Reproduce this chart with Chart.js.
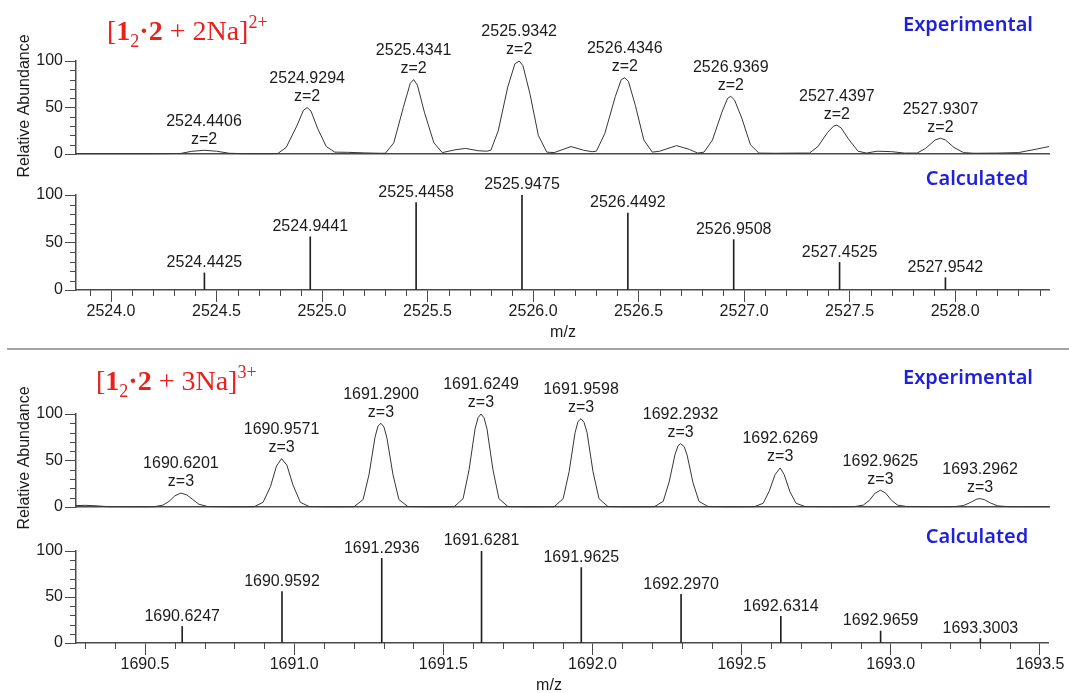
<!DOCTYPE html>
<html>
<head>
<meta charset="utf-8">
<title>Isotope patterns</title>
<script src="https://cdn.jsdelivr.net/npm/chart.js@4.4.1/dist/chart.umd.min.js"></script>
<style>
  body { margin: 0; width: 1069px; height: 693px; overflow: hidden; background: #fff; position: relative; }
  canvas { position: absolute; left: 0; }
  .rule { position: absolute; left: 7px; right: 0; top: 348px; height: 2px; background: #a5a5a5; }
</style>
</head>
<body>
<canvas id="exp2" width="1069" height="200" style="top:0"></canvas>
<canvas id="calc2" width="1069" height="189" style="top:160px"></canvas>
<div class="rule"></div>
<canvas id="exp3" width="1069" height="200" style="top:349px"></canvas>
<canvas id="calc3" width="1069" height="182" style="top:514px"></canvas>
<script>
// ---- [1_2·2 + 2Na]2+ ----
const charge2 = 2;
const sodium2 = 2;
const mzRange2 = [2523.834, 2528.445];
const expMz2 = [2524.4406, 2524.9294, 2525.4341, 2525.9342, 2526.4346, 2526.9369, 2527.4397, 2527.9307];
const expInt2 = [4, 50, 80, 100, 82, 62, 31, 17];
// profile points between the apexes
const expTrace2 = [
  [2523.834, 0.3], [2524.20, 0.3], [2524.30, 0.5],
  [2524.33, 0.6], [2524.38, 2.8], [2524.50, 3], [2524.56, 0.8], [2524.62, 0.4], [2524.75, 0.3],
  [2524.79, 0.5], [2524.83, 7], [2524.88, 30], [2524.912, 47], [2524.948, 46], [2524.98, 27], [2525.02, 8], [2525.06, 2],
  [2525.12, 1.8], [2525.20, 1.2], [2525.27, 0.8],
  [2525.30, 0.8], [2525.34, 12], [2525.385, 50], [2525.418, 76], [2525.452, 74], [2525.485, 45], [2525.53, 12], [2525.57, 1.5],
  [2525.63, 4.5], [2525.68, 6], [2525.74, 3.5], [2525.78, 3],
  [2525.80, 4], [2525.835, 25], [2525.88, 72], [2525.914, 97], [2525.952, 95], [2525.985, 65], [2526.025, 20], [2526.065, 2],
  [2526.10, 1.5], [2526.18, 8], [2526.24, 4], [2526.28, 2.5],
  [2526.30, 3], [2526.34, 22], [2526.39, 62], [2526.418, 80], [2526.452, 78], [2526.485, 52], [2526.525, 15], [2526.565, 2],
  [2526.60, 3], [2526.68, 9], [2526.74, 5], [2526.78, 1],
  [2526.81, 2], [2526.85, 15], [2526.895, 45], [2526.922, 60], [2526.955, 58], [2526.99, 38], [2527.03, 10], [2527.07, 1],
  [2527.15, 0.8], [2527.25, 1],
  [2527.31, 1], [2527.35, 8], [2527.395, 23], [2527.424, 30], [2527.46, 28], [2527.495, 16], [2527.54, 3], [2527.58, 1],
  [2527.63, 3], [2527.70, 2.5], [2527.76, 1],
  [2527.82, 1], [2527.86, 6], [2527.905, 15], [2527.955, 15], [2527.995, 7], [2528.04, 1.5], [2528.09, 0.8],
  [2528.20, 1], [2528.30, 1.5], [2528.38, 5], [2528.445, 8]
];
const calcMz2 = [2524.4425, 2524.9441, 2525.4458, 2525.9475, 2526.4492, 2526.9508, 2527.4525, 2527.9542];
const calcInt2 = [18, 56, 92, 100, 81, 53, 29, 13];

// ---- [1_2·2 + 3Na]3+ ----
const charge3 = 3;
const sodium3 = 3;
const mzRange3 = [1690.2687, 1693.527];
const expMz3 = [1690.6201, 1690.9571, 1691.2900, 1691.6249, 1691.9598, 1692.2932, 1692.6269, 1692.9625, 1693.2962];
const expInt3 = [15, 52, 90, 100, 95, 68, 42, 18, 9];
const expTrace3 = [
  [1690.2687, 1.5], [1690.30, 1.8], [1690.34, 1.2], [1690.38, 0.3], [1690.50, 0.2],
  [1690.53, 0.3], [1690.56, 2], [1690.58, 6], [1690.60, 12], [1690.64, 13], [1690.66, 8], [1690.68, 3], [1690.71, 0.5], [1690.80, 0.2],
  [1690.865, 0.3], [1690.895, 5], [1690.92, 22], [1690.94, 44], [1690.975, 45], [1690.995, 24], [1691.02, 5], [1691.05, 0.5], [1691.13, 0.2],
  [1691.20, 0.3], [1691.23, 8], [1691.25, 35], [1691.27, 75], [1691.28, 87], [1691.30, 86], [1691.31, 74], [1691.33, 35], [1691.35, 8], [1691.38, 0.5], [1691.46, 0.2],
  [1691.535, 0.3], [1691.565, 9], [1691.585, 40], [1691.605, 84], [1691.615, 96], [1691.635, 96], [1691.645, 84], [1691.665, 40], [1691.685, 9], [1691.715, 0.5], [1691.79, 0.2],
  [1691.87, 0.3], [1691.90, 9], [1691.92, 38], [1691.94, 80], [1691.95, 92], [1691.97, 91], [1691.98, 80], [1692.00, 38], [1692.02, 9], [1692.05, 0.5], [1692.12, 0.2],
  [1692.205, 0.3], [1692.235, 6], [1692.255, 27], [1692.275, 57], [1692.285, 66], [1692.305, 65], [1692.315, 56], [1692.335, 26], [1692.355, 6], [1692.385, 0.5], [1692.46, 0.2],
  [1692.54, 0.3], [1692.57, 4], [1692.59, 17], [1692.61, 35], [1692.64, 35], [1692.66, 16], [1692.68, 4], [1692.71, 0.5], [1692.80, 0.3],
  [1692.875, 0.4], [1692.905, 2], [1692.925, 7], [1692.945, 15], [1692.98, 15], [1693.00, 7], [1693.02, 2], [1693.05, 0.5], [1693.15, 0.3],
  [1693.21, 0.4], [1693.24, 1.5], [1693.265, 5], [1693.285, 8.5], [1693.31, 8], [1693.33, 4.5], [1693.355, 1.2], [1693.39, 0.4],
  [1693.45, 0.3], [1693.527, 0.3]
];
const calcMz3 = [1690.6247, 1690.9592, 1691.2936, 1691.6281, 1691.9625, 1692.2970, 1692.6314, 1692.9659, 1693.3003];
const calcInt3 = [18, 56, 92, 100, 82, 53, 29, 13, 5];

const yLabels = [0, 50, 100];

const FONT = '"Liberation Sans", Arial, sans-serif';
const AXIS = '#4a4a4a';
const INK = '#1c1c1c';
const BLUE = '#1f1fdc';
const RED = '#e8201e';

Chart.defaults.font.family = FONT;
Chart.defaults.font.size = 16;
Chart.defaults.color = INK;
Chart.defaults.animation = false;

const isHalf = v => Math.abs(v * 2 - Math.round(v * 2)) < 1e-6;

function profile(mz, inten, trace) {
  const apex = mz.map((x, i) => ({ x, y: inten[i] }));
  return apex.concat(trace.map(([x, y]) => ({ x, y }))).sort((a, b) => a.x - b.x);
}

function yScale() {
  return {
    min: 0, max: 100,
    afterFit: s => { s.width = 76; },
    ticks: { stepSize: 10, autoSkip: false, padding: 2, callback: v => yLabels.includes(v) ? String(v) : '' },
    grid: { drawOnChartArea: false, tickLength: 11, tickWidth: 1,
      tickColor: c => yLabels.includes(c.tick.value) ? AXIS : 'rgba(0,0,0,0)' },
    border: { color: AXIS, width: 1.5 }
  };
}

function xScale(range, labelled) {
  if (!labelled) {
    return {
      type: 'linear', min: range[0], max: range[1], offset: false,
      afterFit: s => { s.height = 0; },
      ticks: { display: false }, grid: { display: false },
      border: { color: AXIS, width: 1.5 }
    };
  }
  return {
    type: 'linear', min: range[0], max: range[1], offset: false,
    afterFit: s => { s.height = 52; },
    ticks: { stepSize: 0.1, includeBounds: false, autoSkip: false, maxRotation: 0, maxTicksLimit: 200, padding: 0,
      callback: v => isHalf(v) ? v.toFixed(1) : '' },
    grid: { drawOnChartArea: false, offset: false, tickLength: 12, tickWidth: 1,
      tickColor: c => isHalf(c.tick.value) ? AXIS : 'rgba(0,0,0,0)' }
    ,
    border: { color: AXIS, width: 1.5 }
  };
}

// short ticks: every 10 on y, every 0.1 on x
const minorTicks = {
  id: 'minorTicks',
  afterDraw(chart) {
    const { ctx, chartArea, scales: { x, y } } = chart;
    ctx.save();
    ctx.strokeStyle = AXIS;
    ctx.lineWidth = 1;
    ctx.beginPath();
    y.ticks.forEach(t => {
      if (yLabels.includes(t.value)) return;
      const py = Math.round(y.getPixelForValue(t.value)) + 0.5;
      ctx.moveTo(chartArea.left - 6, py);
      ctx.lineTo(chartArea.left, py);
    });
    if (x.options.ticks.display !== false) {
      x.ticks.forEach(t => {
        if (isHalf(t.value)) return;
        const px = Math.round(x.getPixelForValue(t.value)) + 0.5;
        ctx.moveTo(px, chartArea.bottom);
        ctx.lineTo(px, chartArea.bottom + 6);
      });
    }
    ctx.stroke();
    ctx.restore();
  }
};

// m/z (and charge) written above each peak
const peakLabels = {
  id: 'peakLabels',
  afterDatasetsDraw(chart, args, opts) {
    const { ctx, scales: { x, y } } = chart;
    ctx.save();
    ctx.font = '16px ' + FONT;
    ctx.fillStyle = INK;
    ctx.textAlign = 'center';
    ctx.textBaseline = 'middle';
    opts.mz.forEach((m, i) => {
      const px = x.getPixelForValue(m);
      const py = y.getPixelForValue(opts.inten[i]);
      if (opts.charge) {
        ctx.fillText(m.toFixed(4), px, py - 29);
        ctx.fillText('z=' + opts.charge, px, py - 11);
      } else {
        ctx.fillText(m.toFixed(4), px, py - 10);
      }
    });
    ctx.restore();
  }
};

function drawFormula(ctx, x, y, na, charge) {
  const parts = [
    ['[', '', 28, 0], ['1', 'bold ', 28, 0], ['2', '', 18, 7], ['·', 'bold ', 28, 0], ['2', 'bold ', 28, 0],
    [' + ' + na + 'Na]', '', 28, 0], [charge + '+', '', 18, -12]
  ];
  ctx.fillStyle = RED;
  ctx.textBaseline = 'alphabetic';
  ctx.textAlign = 'left';
  parts.forEach(([txt, weight, size, dy]) => {
    ctx.font = weight + size + 'px "Liberation Serif", "Times New Roman", serif';
    ctx.fillText(txt, x, y + dy);
    x += ctx.measureText(txt).width;
  });
}

// panel captions, formula and axis titles
const notes = {
  id: 'notes',
  afterDraw(chart, args, opts) {
    const { ctx } = chart;
    ctx.save();
    if (opts.tag) {
      ctx.font = '600 20px "Noto Sans", sans-serif';
      ctx.fillStyle = BLUE;
      ctx.textAlign = 'center';
      ctx.textBaseline = 'middle';
      ctx.fillText(opts.tag.text, opts.tag.x, opts.tag.y);
    }
    if (opts.formula) {
      const f = opts.formula;
      drawFormula(ctx, f.x, f.y, f.na, f.charge);
    }
    ctx.font = '16px ' + FONT;
    ctx.fillStyle = INK;
    ctx.textAlign = 'center';
    ctx.textBaseline = 'middle';
    if (opts.xTitle) {
      ctx.fillText('m/z', opts.xTitle.x, opts.xTitle.y);
    }
    if (opts.yTitle) {
      ctx.translate(opts.yTitle.x, opts.yTitle.y);
      ctx.rotate(-Math.PI / 2);
      ctx.fillText('Relative Abundance', 0, 0);
    }
    ctx.restore();
  }
};

function expChart(id, range, mz, inten, trace, charge, padTop, padBottom, noteOpts) {
  return new Chart(document.getElementById(id), {
    type: 'line',
    data: {
      datasets: [{
        data: profile(mz, inten, trace),
        borderColor: '#363636',
        borderWidth: 1,
        pointRadius: 0,
        tension: 0,
        clip: 4
      }]
    },
    options: {
      responsive: false,
      layout: { padding: { top: padTop, bottom: padBottom, left: 0, right: 20 } },
      scales: { x: xScale(range, false), y: yScale() },
      plugins: {
        legend: { display: false },
        tooltip: { enabled: false },
        peakLabels: { mz, inten, charge },
        notes: noteOpts
      }
    },
    plugins: [minorTicks, peakLabels, notes]
  });
}

function calcChart(id, range, mz, inten, padTop, padBottom, padRight, noteOpts) {
  return new Chart(document.getElementById(id), {
    type: 'bar',
    data: {
      datasets: [{
        data: mz.map((x, i) => ({ x, y: inten[i] })),
        backgroundColor: '#222',
        barThickness: 1
      }]
    },
    options: {
      responsive: false,
      layout: { padding: { top: padTop, bottom: padBottom, left: 0, right: padRight } },
      scales: { x: xScale(range, true), y: yScale() },
      plugins: {
        legend: { display: false },
        tooltip: { enabled: false },
        peakLabels: { mz, inten, charge: null },
        notes: noteOpts
      }
    },
    plugins: [minorTicks, peakLabels, notes]
  });
}

expChart('exp2', mzRange2, expMz2, expInt2, expTrace2, charge2, 61, 46, {
  tag: { text: 'Experimental', x: 968, y: 25 },
  formula: { x: 107, y: 40, na: sodium2, charge: charge2 },
  yTitle: { x: 25, y: 106 }
});
calcChart('calc2', mzRange2, calcMz2, calcInt2, 35, 7, 20, {
  tag: { text: 'Calculated', x: 977, y: 19 },
  xTitle: { x: 563, y: 173 }
});
expChart('exp3', mzRange3, expMz3, expInt3, expTrace3, charge3, 65, 42, {
  tag: { text: 'Experimental', x: 968, y: 29 },
  formula: { x: 96, y: 41, na: sodium3, charge: charge3 },
  yTitle: { x: 25, y: 109 }
});
calcChart('calc3', mzRange3, calcMz3, calcInt3, 37, 1, 21, {
  tag: { text: 'Calculated', x: 977, y: 23 },
  xTitle: { x: 549, y: 172 }
});
</script>
</body>
</html>
